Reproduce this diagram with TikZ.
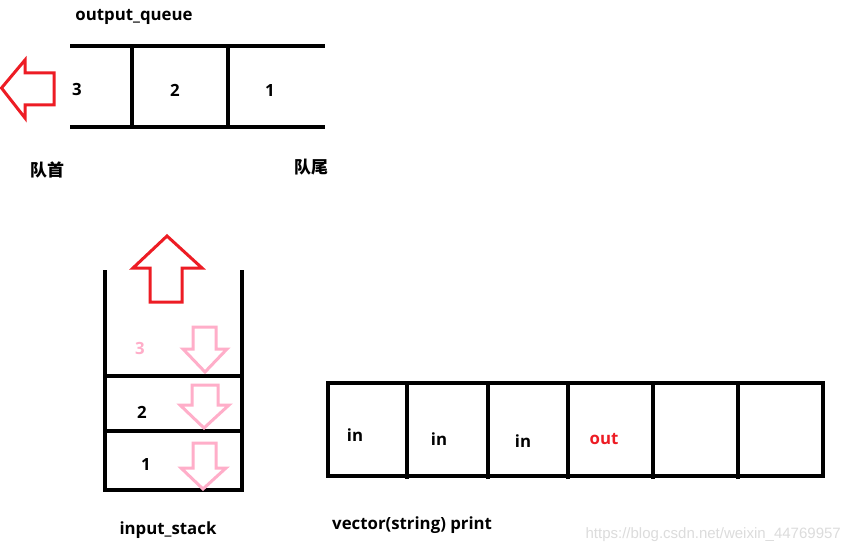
\documentclass[tikz,border=0pt]{standalone}
\usepackage{fontspec}
\setmainfont{Open Sans}
\newfontfamily\cjk{Noto Sans CJK SC}
\newfontfamily\wm{Liberation Sans}
\definecolor{pred}{HTML}{ED1C24}
\definecolor{ppink}{HTML}{FFAEC9}
\definecolor{wmgray}{HTML}{DCDCDC}
\begin{document}
\begin{tikzpicture}[x=1pt,y=-1pt,
  wall/.style={line width=4.2pt},
  redarrow/.style={draw=pred,line width=3pt,line join=miter},
  pinkarrow/.style={draw=ppink,line width=3pt,line join=miter},
  lbl/.style={font=\bfseries\fontsize{16.8}{20}\selectfont,inner sep=0pt},
  cjklbl/.style={font=\cjk\bfseries\fontsize{17}{20}\selectfont,inner sep=0pt}]
\useasboundingbox[fill=white] (0,0) rectangle (850,553);
% output queue
\node[lbl] (oq) at (134,17) {output\_queue};
\draw[wall] (70,46) -- (325,46);
\draw[wall] (70,127) -- (325,127);
\draw[wall] (132,46) -- (132,127);
\draw[wall] (228,46) -- (228,127);
\node[lbl] (q3) at (77,90) {3};
\node[lbl] (q2) at (175,90) {2};
\node[lbl] (q1) at (270,91) {1};
\node[cjklbl] (head) at (47,170) {队首};
\node[cjklbl] (tail) at (311,167) {队尾};
\draw[redarrow] (1.5,88) -- (25,60) -- (25,73) -- (54,73) -- (54,105) -- (25,105) -- (25,118) -- cycle;
% input stack
\draw[wall] (105,270) -- (105,490) -- (242,490) -- (242,270);
\draw[wall] (105,376) -- (242,376);
\draw[wall] (105,431) -- (242,431);
\node[lbl,text=ppink] (s3) at (140,348) {3};
\node[lbl] (s2) at (142,412) {2};
\node[lbl] (s1) at (146,464) {1};
\node[lbl] (is) at (168,530) {input\_stack};
\draw[redarrow] (167,236) -- (202,268) -- (182,268) -- (182,302) -- (150,302) -- (150,268) -- (133,268) -- cycle;
\draw[pinkarrow] (193,327) -- (216,327) -- (216,349) -- (227,349) -- (205,372) -- (183,349) -- (193,349) -- cycle;
\draw[pinkarrow] (192,385) -- (218,385) -- (218,405) -- (229,405) -- (204,428) -- (180,405) -- (192,405) -- cycle;
\draw[pinkarrow] (193,443) -- (216,443) -- (216,468) -- (226,468) -- (203,489) -- (181,468) -- (193,468) -- cycle;
% vector
\draw[wall] (328,383) rectangle (823,476);
\foreach \x in {407,488,568,653,738} \draw[wall] (\x,381) -- (\x,479);
\node[lbl] (v1) at (355,435) {in};
\node[lbl] (v2) at (439,439) {in};
\node[lbl] (v3) at (523,441) {in};
\node[lbl,text=pred] (v4) at (604,439) {out};
\node[lbl,anchor=west] (vp) at (332,525) {vector(string) print};
\node[font=\wm\fontsize{15}{18}\selectfont,text=wmgray,anchor=east,inner sep=0pt] (wmk) at (841,535) {https://blog.csdn.net/weixin\_44769957};
\end{tikzpicture}
\end{document}
